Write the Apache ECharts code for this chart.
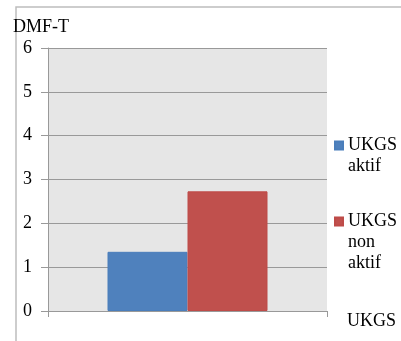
<!DOCTYPE html>
<html>
<head>
<meta charset="utf-8">
<script src="https://cdn.jsdelivr.net/npm/echarts@6/dist/echarts.min.js"></script>
<style>
  html, body { margin: 0; padding: 0; background: #fff; }
  #main { width: 401px; height: 341px; }
</style>
</head>
<body>
<div id="main"></div>
<script>
// data
const categories = [''];
const aktif = [1.35];
const nonAktif = [2.73];
const yTicks = [0, 1, 2, 3, 4, 5, 6];

const serif = 'Liberation Serif';

const chart = echarts.init(document.getElementById('main'), null, {renderer: 'canvas'});

// legend text: first line sits level with the square (like Excel), so pad with leading blank lines
const legendText = {fontFamily: serif, fontSize: 18, lineHeight: 21, color: '#000'};

chart.setOption({
    backgroundColor: '#fff',
    animation: false,
    // outer frame (left + top edges of the pasted chart)
    graphic: [{
        type: 'polyline',
        shape: {points: [[16, 341], [16, 7], [401, 7]]},
        style: {stroke: '#bdbdbd', lineWidth: 1.5, fill: null}
    }],
    grid: {
        left: 48, right: 74, top: 48, bottom: 30,
        show: true, backgroundColor: '#e6e6e6', borderWidth: 0
    },
    legend: [{
        data: ['UKGS\naktif'],
        formatter: name => '\n' + name,
        orient: 'vertical', left: 334, top: 114, padding: 0,
        itemWidth: 8, itemHeight: 8, icon: 'rect',
        textStyle: legendText
    }, {
        data: ['UKGS\nnon\naktif'],
        formatter: name => '\n\n' + name,
        orient: 'vertical', left: 334, top: 169, padding: 0,
        itemWidth: 8, itemHeight: 8, icon: 'rect',
        textStyle: legendText
    }],
    xAxis: {
        type: 'category',
        data: categories,
        name: 'UKGS',
        nameLocation: 'end',
        nameGap: 20,
        nameTextStyle: {fontFamily: serif, fontSize: 18, color: '#000', verticalAlign: 'top', padding: [1, 0, 0, 0]},
        axisLine: {lineStyle: {color: '#999', width: 1}},
        axisTick: {show: true, length: 6, lineStyle: {color: '#999'}},
        axisLabel: {show: false}
    },
    yAxis: {
        type: 'value',
        min: yTicks[0],
        max: yTicks[yTicks.length - 1],
        interval: 1,
        name: 'DMF-T',
        nameLocation: 'end',
        nameGap: 12,
        nameTextStyle: {fontFamily: serif, fontSize: 18, color: '#000', align: 'center', padding: [0, 14, 0, 0]},
        axisLine: {show: true, lineStyle: {color: '#999', width: 1}},
        axisTick: {show: true, length: 7, lineStyle: {color: '#999'}},
        axisLabel: {fontFamily: serif, fontSize: 18, color: '#000', margin: 16, padding: [8, 0, 0, 0]},
        splitLine: {show: true, lineStyle: {color: '#999', width: 1}}
    },
    series: [{
        name: 'UKGS\naktif',
        type: 'bar',
        data: aktif,
        barWidth: 80,
        barGap: '0%',
        itemStyle: {color: '#4f81bd', borderColor: '#4a7ebb', borderWidth: 1}
    }, {
        name: 'UKGS\nnon\naktif',
        type: 'bar',
        data: nonAktif,
        barWidth: 80,
        itemStyle: {color: '#c0504d', borderColor: '#be4b48', borderWidth: 1}
    }]
});
</script>
</body>
</html>
